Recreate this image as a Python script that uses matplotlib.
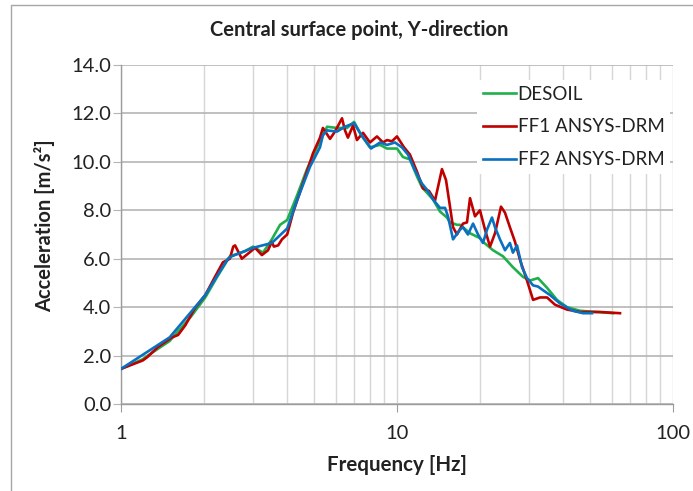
import matplotlib
matplotlib.use('Agg')
import matplotlib.pyplot as plt
from matplotlib.ticker import LogLocator, NullFormatter
from matplotlib.patches import Rectangle

# ---- data ----
desoil_f = [1.0, 1.2, 1.25, 1.5, 1.79, 2.02, 2.23, 2.48, 2.8, 3.01, 3.27, 3.52, 3.77, 4.0,
            4.34, 4.72, 5.13, 5.58, 6.06, 6.59, 6.99, 7.47, 7.98, 8.68, 9.2, 10.0, 10.51,
            11.14, 11.81, 12.32, 13.5, 14.31, 15.17, 15.56, 16.5, 16.91, 18.39, 19.98, 20.49,
            22.28, 24.21, 26.3, 28.61, 30.33, 32.43, 34.96, 37.99, 41.3, 46.03, 53.04, 60.63]
desoil_a = [1.45, 1.85, 2.0, 2.6, 3.6, 4.4, 5.25, 6.1, 6.3, 6.5, 6.25, 6.8, 7.4, 7.6,
            8.6, 9.7, 10.6, 11.45, 11.4, 11.4, 11.65, 11.05, 10.6, 10.7, 10.55, 10.55, 10.2,
            10.1, 9.4, 8.95, 8.45, 7.95, 7.7, 7.5, 7.4, 7.4, 7.05, 6.85, 6.7,
            6.35, 6.1, 5.65, 5.25, 5.1, 5.2, 4.8, 4.3, 4.0, 3.85, 3.8, 3.75]

ff1_f = [1.0, 1.2, 1.25, 1.36, 1.53, 1.61, 1.71, 1.85, 2.02, 2.19, 2.34, 2.48, 2.55, 2.59,
         2.74, 2.88, 3.06, 3.24, 3.41, 3.52, 3.58, 3.71, 3.83, 4.0, 4.2, 4.56, 4.96, 5.26,
         5.39, 5.72, 5.96, 6.32, 6.48, 6.64, 6.93, 7.16, 7.53, 7.98, 8.46, 8.9, 9.2, 9.59,
         10.0, 10.6, 11.14, 11.81, 12.43, 13.06, 13.73, 14.55, 15.05, 15.56, 15.96, 16.5,
         17.34, 17.93, 18.39, 19.17, 19.98, 20.84, 21.73, 22.65, 23.81, 24.62, 25.65, 26.76,
         27.91, 29.58, 31.11, 32.98, 34.96, 37.37, 41.3, 46.03, 54.38, 64.27]
ff1_a = [1.45, 1.8, 1.95, 2.35, 2.75, 2.85, 3.25, 3.95, 4.5, 5.25, 5.85, 6.0, 6.5, 6.55,
         6.0, 6.2, 6.45, 6.15, 6.35, 6.7, 6.5, 6.55, 6.8, 7.0, 7.9, 9.1, 10.35, 11.0,
         11.4, 10.95, 11.25, 11.8, 11.3, 11.0, 11.5, 10.9, 11.2, 10.8, 11.05, 10.8, 10.9, 10.85,
         11.05, 10.6, 10.3, 9.6, 8.9, 8.8, 8.4, 9.7, 9.25, 8.15, 7.3, 7.0,
         7.45, 7.5, 8.5, 7.75, 8.0, 7.2, 6.5, 7.05, 8.15, 7.9, 7.3, 6.7,
         5.95, 5.1, 4.3, 4.4, 4.4, 4.1, 3.9, 3.8, 3.8, 3.75]

ff2_f = [1.0, 1.5, 2.02, 2.44, 2.52, 3.01, 3.52, 4.0, 4.34, 4.84, 5.26, 5.39, 5.58, 6.06,
         6.48, 6.99, 7.34, 8.05, 8.68, 9.2, 9.83, 10.42, 10.96, 11.62, 12.32, 12.84, 13.5,
         14.31, 14.93, 15.3, 15.96, 16.91, 17.34, 18.07, 18.86, 19.66, 20.49, 21.19, 22.09,
         22.65, 23.61, 24.62, 25.65, 26.3, 27.22, 28.38, 29.58, 31.11, 32.43, 33.81, 35.84,
         38.96, 43.42, 47.2, 50.87]
ff2_a = [1.45, 2.75, 4.5, 6.0, 6.1, 6.45, 6.65, 7.25, 8.4, 9.8, 10.6, 11.1, 11.3, 11.25,
         11.45, 11.6, 11.2, 10.55, 10.8, 10.7, 10.8, 10.6, 10.3, 9.65, 9.1, 8.85, 8.45,
         8.1, 8.1, 7.75, 6.8, 7.2, 7.3, 7.0, 7.45, 7.0, 6.65, 7.2, 7.7,
         7.3, 6.8, 6.35, 6.65, 6.25, 6.55, 5.65, 5.2, 4.9, 4.85, 4.7, 4.5,
         4.15, 3.85, 3.75, 3.75]

series_labels = ['DESOIL', 'FF1 ANSYS-DRM', 'FF2 ANSYS-DRM']
series_colors = ['#1fb04c', '#c00000', '#0a70c0']

y_ticks = [0, 2, 4, 6, 8, 10, 12, 14]
x_ticks = [1, 10, 100]
x_tick_labels = ['1', '10', '100']

title = 'Central surface point, Y-direction'
x_label = 'Frequency [Hz]'
y_label = 'Acceleration [m/s²]'

# ---- drawing ----
plt.rcParams['font.family'] = ['Lato', 'DejaVu Sans']
W, H = 693, 491
fig = plt.figure(figsize=(W / 100, H / 100), dpi=100)
fig.patch.set_facecolor('white')
fig.patches.append(Rectangle((11 / W, -0.05), 1.2, 1 - 5 / H + 0.05, transform=fig.transFigure,
                             fill=False, edgecolor='#a6a6a6', lw=1.0))

ax = fig.add_axes([121 / W, 1 - 404 / H, 552 / W, 339 / H])
ax.set_xscale('log')
ax.set_xlim(1, 100)
ax.set_ylim(0, 14)

for f, a, lab, col in zip([desoil_f, ff1_f, ff2_f], [desoil_a, ff1_a, ff2_a],
                          series_labels, series_colors):
    ax.plot(f, a, color=col, lw=1.9, label=lab, solid_joinstyle='round', zorder=3)

ax.set_yticks(y_ticks)
ax.set_yticklabels(['%.1f' % v for v in y_ticks])
ax.set_xticks(x_ticks)
ax.set_xticklabels(x_tick_labels)
ax.xaxis.set_minor_locator(LogLocator(base=10, subs=range(2, 10)))
ax.xaxis.set_minor_formatter(NullFormatter())

ax.grid(which='major', axis='y', color='#b5b5b5', lw=1.2, zorder=0)
ax.grid(which='both', axis='x', color='#d6d6d6', lw=1.0, zorder=0)
ax.set_axisbelow(True)

for s in ['top', 'right']:
    ax.spines[s].set_visible(False)
for s in ['left', 'bottom']:
    ax.spines[s].set_color('#9c9c9c')
    ax.spines[s].set_linewidth(1.0)

ax.tick_params(axis='y', which='major', length=6, color='#b5b5b5', labelsize=14.5,
               pad=1, labelcolor='#222222')
ax.tick_params(axis='x', which='major', length=6, color='#9c9c9c', labelsize=14.5,
               pad=9, labelcolor='#222222')
ax.tick_params(axis='x', which='minor', length=0)

leg = ax.legend(loc='upper right', bbox_to_anchor=(0.9946, 0.956), frameon=True,
                fontsize=13.5, handlelength=1.75, handletextpad=0.1, labelspacing=0.85,
                borderpad=0.3, borderaxespad=0.0, fancybox=False)
leg.get_frame().set_facecolor('white')
leg.get_frame().set_edgecolor('none')
leg.get_frame().set_alpha(1.0)
for t in leg.get_texts():
    t.set_color('#222222')

fig.text(359 / W, 1 - 30 / H, title, ha='center', va='center', fontsize=14.5,
         fontweight='bold', color='#222222')
fig.text(397 / W, 1 - 465 / H, x_label, ha='center', va='center', fontsize=14.8,
         fontweight='bold', color='#222222')
fig.text(45 / W, 1 - 226 / H, y_label, ha='center', va='center', rotation=90,
         fontsize=14.5, fontweight='bold', color='#222222')

fig.savefig('out.png', dpi=100)
